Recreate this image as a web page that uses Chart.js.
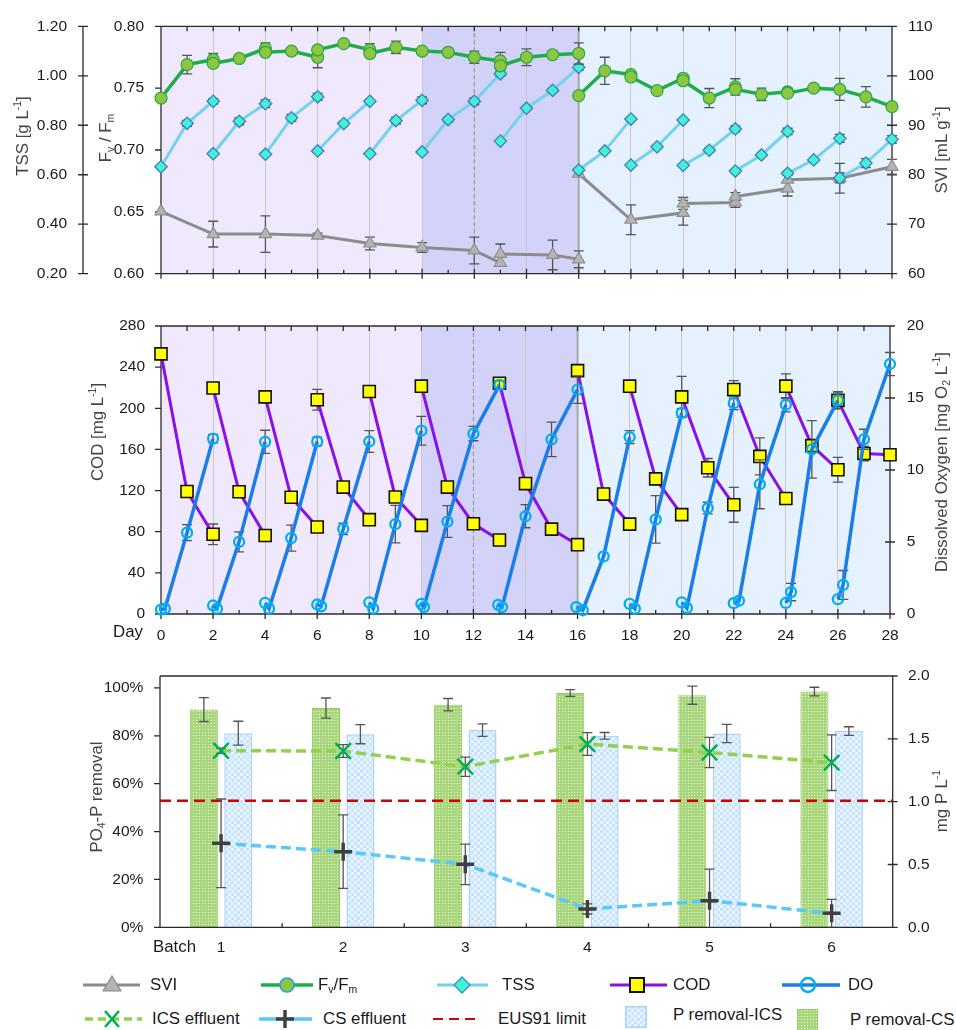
<!DOCTYPE html>
<html>
<head>
<meta charset="utf-8">
<script src="https://cdn.jsdelivr.net/npm/chart.js@4.4.1/dist/chart.umd.min.js"></script>
<style>
  html, body { margin: 0; padding: 0; background: #fff; }
  #wrap { position: relative; width: 956px; height: 1030px; overflow: hidden; color: #1a1a1a; --k: 1; }
  canvas { position: absolute; left: 0; }
  .yt { position: absolute; transform: translate(-50%, -50%) rotate(-90deg); white-space: nowrap;
        font-size: calc(var(--k) * 19px); color: #454545; line-height: 1; }
  .lbl { position: absolute; transform: translateY(-50%); font-size: calc(var(--k) * 19px); white-space: nowrap; line-height: 1; }
  .lg { position: absolute; transform: translateY(-50%); font-size: calc(var(--k) * 19px); white-space: nowrap; line-height: 1; }
  sup { font-size: 0.62em; vertical-align: 0.6em; line-height: 0; }
  sub { font-size: 0.62em; vertical-align: -0.35em; line-height: 0; }
  .ic { position: absolute; overflow: visible; }
</style>
</head>
<body>
<div id="wrap">
  <canvas id="c1" width="956" height="300" style="top:0;width:956px;height:300px"></canvas>
  <canvas id="c2" width="956" height="350" style="top:300px;width:956px;height:350px"></canvas>
  <canvas id="c3" width="956" height="320" style="top:650px;width:956px;height:320px"></canvas>
  <canvas id="c4" width="956" height="320" style="top:650px;width:956px;height:320px"></canvas>

  <!-- axis titles -->
  <div class="yt" style="left:23px;top:136px">TSS [g L<sup>-1</sup>]</div>
  <div class="yt" style="left:106px;top:138px">F<sub>v</sub> / F<sub>m</sub></div>
  <div class="yt" style="left:942px;top:150px">SVI [mL g<sup>-1</sup>]</div>
  <div class="yt" style="left:98px;top:432px">COD [mg L<sup>-1</sup>]</div>
  <div class="yt" style="left:942px;top:462px">Dissolved Oxygen [mg O<sub>2</sub> L<sup>-1</sup>]</div>
  <div class="yt" style="left:97px;top:797px">PO<sub>4</sub>-P removal</div>
  <div class="yt" style="left:942px;top:801px">mg P L<sup>-1</sup></div>
  <div class="lbl" style="left:113px;top:632px">Day</div>
  <div class="lbl" style="left:153px;top:947px">Batch</div>

  <!-- legend -->
  <svg class="ic" style="left:80px;top:973px" width="64" height="24">
    <line x1="3" y1="12" x2="60" y2="12" stroke="#8c8c8c" stroke-width="3"/>
    <polygon points="32,3 41,18 23,18" fill="#b4b4b4" stroke="#8c8c8c" stroke-width="1.2"/>
  </svg>
  <div class="lg" style="left:150px;top:985px">SVI</div>
  <svg class="ic" style="left:258px;top:973px" width="60" height="24">
    <line x1="3" y1="12" x2="55" y2="12" stroke="#1fad4b" stroke-width="3.5"/>
    <circle cx="29" cy="12" r="7" fill="#8dc63f" stroke="#1ca3e3" stroke-width="1.6"/>
  </svg>
  <div class="lg" style="left:318px;top:985px">F<sub>v</sub>/F<sub>m</sub></div>
  <svg class="ic" style="left:434px;top:973px" width="60" height="24">
    <line x1="3" y1="12" x2="54" y2="12" stroke="#73d2ec" stroke-width="3"/>
    <polygon points="28,4 36,12 28,20 20,12" fill="#3ef5cf" stroke="#3f88e0" stroke-width="1.3"/>
  </svg>
  <div class="lg" style="left:502px;top:985px">TSS</div>
  <svg class="ic" style="left:607px;top:973px" width="64" height="24">
    <line x1="3" y1="12" x2="60" y2="12" stroke="#8a10ea" stroke-width="3"/>
    <rect x="23" y="5" width="14" height="14" fill="#ffff00" stroke="#111" stroke-width="2"/>
  </svg>
  <div class="lg" style="left:673px;top:985px">COD</div>
  <svg class="ic" style="left:779px;top:973px" width="64" height="24">
    <line x1="3" y1="12" x2="61" y2="12" stroke="#1a7ee6" stroke-width="3.5"/>
    <circle cx="29" cy="12" r="7" fill="none" stroke="#00aef0" stroke-width="2.5"/>
  </svg>
  <div class="lg" style="left:848px;top:985px">DO</div>

  <svg class="ic" style="left:82px;top:1007px" width="64" height="24">
    <line x1="3" y1="12" x2="60" y2="12" stroke="#92d050" stroke-width="3.5" stroke-dasharray="8 5"/>
    <line x1="23" y1="4" x2="37" y2="20" stroke="#00b050" stroke-width="2.5"/>
    <line x1="37" y1="4" x2="23" y2="20" stroke="#00b050" stroke-width="2.5"/>
  </svg>
  <div class="lg" style="left:152px;top:1019px">ICS effluent</div>
  <svg class="ic" style="left:256px;top:1007px" width="60" height="24">
    <line x1="3" y1="12" x2="56" y2="12" stroke="#5ac8fa" stroke-width="3.5"/>
    <line x1="29" y1="3" x2="29" y2="21" stroke="#404040" stroke-width="3.5"/>
    <line x1="20" y1="12" x2="38" y2="12" stroke="#404040" stroke-width="3.5"/>
  </svg>
  <div class="lg" style="left:323px;top:1019px">CS effluent</div>
  <svg class="ic" style="left:430px;top:1007px" width="52" height="24">
    <line x1="3" y1="12" x2="48" y2="12" stroke="#d40000" stroke-width="2" stroke-dasharray="10 6"/>
  </svg>
  <div class="lg" style="left:498px;top:1019px">EUS91 limit</div>
  <svg class="ic" style="left:625px;top:1006px" width="22" height="22">
    <defs>
      <pattern id="chk" width="6" height="6" patternUnits="userSpaceOnUse">
        <rect width="6" height="6" fill="#e8f4ff"/>
        <rect width="3" height="3" fill="#c8e3fd"/>
        <rect x="3" y="3" width="3" height="3" fill="#c8e3fd"/>
      </pattern>
    </defs>
    <rect x="0.75" y="0.75" width="20.5" height="20.5" fill="url(#chk)" stroke="#a9d3fb" stroke-width="1.5"/>
  </svg>
  <div class="lg" style="left:673px;top:1015px">P removal-ICS</div>
  <svg class="ic" style="left:797px;top:1009px" width="21" height="22">
    <defs>
      <pattern id="dots" width="3" height="3" patternUnits="userSpaceOnUse">
        <rect width="3" height="3" fill="#a8d67a"/>
        <rect x="1" y="1" width="1" height="1" fill="#f0f8e8"/>
      </pattern>
    </defs>
    <rect x="0.5" y="0.5" width="20" height="21" fill="url(#dots)" stroke="#93cc62" stroke-width="1"/>
  </svg>
  <div class="lg" style="left:850px;top:1020px">P removal-CS</div>
</div>

<script>
// ---------- Reactor monitoring: physiology and settling ----------
const fvDay   = [0,1,2,2,3,4,4,5,6,6,7,8,8,9,10,11,12,13,13,14,15,16, 16,17,18,18,19,20,20,21,22,22,23,24,24,25,26,27,28];
const fvValue = [0.742,0.769,0.773,0.770,0.774,0.782,0.779,0.780,0.775,0.781,0.786,0.781,0.778,0.783,0.780,0.779,0.775,0.772,0.768,0.775,0.777,0.778,
                 0.744,0.764,0.761,0.759,0.748,0.758,0.756,0.742,0.751,0.749,0.745,0.747,0.746,0.750,0.749,0.743,0.735];
const fvErr   = [0,0.0075,0.005,0,0,0.0045,0,0,0.0085,0,0,0.005,0,0.005,0,0,0.005,0.007,0,0.0068,0,0.0086,
                 0,0.011,0.002,0,0,0.003,0,0.0077,0.0066,0,0.005,0.003,0,0,0.0089,0.0083,0];
const fvCycle = [0,0,0,0,0,0,0,0,0,0,0,0,0,0,0,0,0,0,0,0,0,0, 1,1,1,1,1,1,1,1,1,1,1,1,1,1,1,1,1];

const tssDay   = [0,1,2, 2,3,4, 4,5,6, 6,7,8, 8,9,10, 10,11,12,13, 13,14,15,16, 16,17,18, 18,19,20, 20,21,22, 22,23,24, 24,25,26, 26,27,28];
const tssValue = [0.632,0.808,0.897, 0.685,0.816,0.887, 0.683,0.830,0.915, 0.696,0.807,0.897, 0.685,0.819,0.901,
                  0.692,0.823,0.897,1.008, 0.736,0.869,0.941,1.034, 0.619,0.696,0.825, 0.639,0.713,0.821,
                  0.638,0.699,0.785, 0.615,0.680,0.775, 0.606,0.660,0.747, 0.587,0.647,0.743];
const tssErr   = [0,0.012,0.011, 0,0.014,0.016, 0,0.014,0.014, 0,0,0, 0,0.014,0.014,
                  0,0.01,0.014,0.01, 0,0,0.008,0.012, 0,0,0, 0,0,0,
                  0,0.008,0.012, 0,0,0.013, 0.008,0,0.016, 0.02,0.018,0.015];
const tssCycle = [0,0,0, 1,1,1, 2,2,2, 3,3,3, 4,4,4, 5,5,5,5, 6,6,6,6, 7,7,7, 8,8,8, 9,9,9, 10,10,10, 11,11,11, 12,12,12];

const sviDay   = [0,2,4,6,8,10,12,13,13,15,16, 16,18,20,20,22,22,24,24,26,28];
const sviValue = [72.6,68.0,68.0,67.7,66.1,65.3,64.7,62.2,64.0,63.8,62.9, 80.2,70.9,72.3,74.2,74.4,75.6,77.2,79.0,79.3,81.6];
const sviErr   = [0,2.6,3.7,0.5,1.3,1.0,2.7,0,2.0,3.0,1.7, 0,3.0,2.5,1.2,1.0,0.8,1.5,0,3.0,1.5];
const sviCycle = [0,0,0,0,0,0,0,0,0,0,0, 1,1,1,1,1,1,1,1,1,1];

// ---------- Feeding cycles: COD and dissolved oxygen ----------
const codDay   = tssDay;
const codValue = [252.9,119.1,77.5, 219.7,118.8,76.3, 211.1,113.5,84.6, 208.3,123.4,91.7, 216.3,113.8,86.2,
                  221.5,123.4,87.7,72.0, 224.3,126.8,82.5,67.4, 236.6,116.6,87.4, 221.5,131.4,96.6,
                  211.1,142.2,106.2, 218.2,153.2,112.3, 221.5,163.7,140.3, 207.7,156.0,154.8];
const codErr   = [0,0,10, 0,0,0, 0,0,0, 10,0,5, 0,0,4,
                  0,0,5,3, 0,5,5,0, 0,0,0, 0,0,4,
                  20,9,17, 8.6,18,3, 12,0,12, 8,7,0];
const codCycle = tssCycle;

const doDay   = [0,0.15,1,2, 2,2.15,3,4, 4,4.15,5,6, 6,6.15,7,8, 8,8.15,9,10, 10,10.1,11,12,13,
                 12.95,13.1,14,15,16, 15.95,16.2,17,18, 18,18.2,19,20, 20,20.2,21,22, 22,22.2,23,24,
                 24,24.2,25,26, 26,26.2,27,28];
const doValue = [0.31,0.37,5.65,12.18, 0.59,0.37,5.01,11.96, 0.77,0.37,5.27,11.98, 0.66,0.53,5.91,11.98,
                 0.81,0.37,6.24,12.73, 0.70,0.48,6.42,12.53,15.91, 0.64,0.48,6.79,12.13,15.58,
                 0.48,0.26,4.0,12.29, 0.70,0.37,6.57,13.96, 0.81,0.42,7.36,14.64, 0.75,0.92,9.01,14.53,
                 0.77,1.52,11.43,14.84, 1.03,2.02,12.13,17.36];
const doErr   = [0,0,0.55,0.3, 0,0,0.7,0.8, 0,0,0.9,0.3, 0,0,0.4,0.75, 0,0,1.3,1.0, 0,0,1.1,0.5,0.3,
                 0,0,0.8,1.2,0.95, 0,0,0,0.45, 0,0,1.65,0.3, 0,0,0.4,0.45, 0,0,1.7,0.5,
                 0,0.6,2.0,0.6, 0,1.0,0.7,0.8];
const doCycle = [0,0,0,0, 1,1,1,1, 2,2,2,2, 3,3,3,3, 4,4,4,4, 5,5,5,5,5, 6,6,6,6,6, 7,7,7,7, 8,8,8,8,
                 9,9,9,9, 10,10,10,10, 11,11,11,11, 12,12,12,12];

// ---------- Batch phosphorus removal ----------
const batches          = ['1','2','3','4','5','6'];
const csRemoval        = [91.0, 91.6, 93.0, 97.9, 97.0, 98.5];   // %
const csRemovalErr     = [5.0, 4.2, 2.6, 1.4, 3.8, 1.8];
const icsRemoval       = [81.1, 80.7, 82.4, 80.0, 81.0, 82.0];   // %
const icsRemovalErr    = [5.0, 4.0, 2.6, 1.4, 3.8, 1.8];
const icsEffluent      = [1.394, 1.392, 1.268, 1.447, 1.380, 1.300]; // mg P/L
const icsEffluentErr   = [0.02, 0.05, 0.076, 0.09, 0.12, 0.22];
const csEffluent       = [0.663, 0.597, 0.497, 0.145, 0.210, 0.110];
const csEffluentErr    = [0.35, 0.29, 0.16, 0.04, 0.25, 0.11];
const eusLimit         = 1.0;

// Operating phases along the day axis
const phaseBounds = [0, 10, 16, 28];
const phaseColors = ['#f0e9fd', '#d3d3fa', '#e5f1fe'];
const dashedDay = 12;
const switchDay = 16;

const tssTicks = { min: 0.2, max: 1.2, step: 0.2 };
const fvTicks  = { min: 0.6, max: 0.8, step: 0.05 };
const sviTicks = { min: 60, max: 110, step: 10 };
const codTicks = { min: 0, max: 280, step: 40 };
const doTicks  = { min: 0, max: 20, step: 5 };
const removalTicks = { min: 0, max: 105, step: 20 };
const effluentTicks = { min: 0, max: 2, step: 0.5 };

// ---------- fonts ----------
function hasFont(name) {
  const g = document.createElement('canvas').getContext('2d');
  const s = 'abcdefghijklmnop0123456789';
  g.font = '40px monospace'; const w0 = g.measureText(s).width;
  g.font = '40px "' + name + '", monospace'; return g.measureText(s).width !== w0;
}
const NARROW = hasFont('Liberation Sans Narrow');
const FAMILY = NARROW ? '"Liberation Sans Narrow", "Liberation Sans", Arial, sans-serif' : '"Liberation Sans", Arial, sans-serif';
const K = NARROW ? 1 : 0.886;
const wrap = document.getElementById('wrap');
wrap.style.fontFamily = FAMILY;
wrap.style.setProperty('--k', K);
Chart.defaults.font.family = FAMILY;
Chart.defaults.font.size = 17.5 * K;
Chart.defaults.color = '#1a1a1a';

// ---------- helpers ----------
function series(days, values, cycles, errs) {
  const pts = [], err = [];
  days.forEach((d, i) => {
    if (i > 0 && cycles[i] !== cycles[i - 1]) { pts.push({ x: d, y: null }); err.push(0); }
    pts.push({ x: d, y: values[i] });
    err.push(errs[i] || 0);
  });
  return { pts, err };
}

// error bars drawn through each dataset's own y scale
function drawErrors(chart, meta, ds) {
  const ctx = chart.ctx, ys = meta.yScale, a = chart.chartArea;
  ctx.save();
  ctx.beginPath(); ctx.rect(a.left - 10, a.top - 2, a.right - a.left + 20, a.bottom - a.top + 2); ctx.clip();
  ctx.strokeStyle = '#555'; ctx.lineWidth = 1.3;
  ctx.beginPath();
  meta.data.forEach((el, i) => {
    const e = ds.errorBars[i];
    const raw = ds.data[i];
    const v = (raw !== null && typeof raw === 'object') ? raw.y : raw;
    if (!e || v === null || v === undefined) return;
    const x = el.x, y1 = ys.getPixelForValue(v + e), y2 = ys.getPixelForValue(v - e);
    ctx.moveTo(x, y1); ctx.lineTo(x, y2);
    ctx.moveTo(x - 5, y1); ctx.lineTo(x + 5, y1);
    ctx.moveTo(x - 5, y2); ctx.lineTo(x + 5, y2);
  });
  ctx.stroke();
  ctx.restore();
}
const errorBars = {
  id: 'errorBars',
  beforeDatasetDraw(chart, args) {
    const ds = chart.data.datasets[args.index];
    if (ds.errorBars && !ds.errorOnTop) drawErrors(chart, args.meta, ds);
  },
  afterDatasetDraw(chart, args) {
    const ds = chart.data.datasets[args.index];
    if (ds.errorBars && ds.errorOnTop) drawErrors(chart, args.meta, ds);
  }
};

// coloured phase bands and phase divider lines
const phaseBands = {
  id: 'phaseBands',
  beforeDraw(chart, args, o) {
    if (!o.bounds) return;
    const { ctx, chartArea: a } = chart, xs = chart.scales.x;
    ctx.save();
    for (let i = 0; i < o.bounds.length - 1; i++) {
      const x1 = xs.getPixelForValue(o.bounds[i]), x2 = xs.getPixelForValue(o.bounds[i + 1]);
      ctx.fillStyle = o.colors[i];
      ctx.fillRect(x1, a.top, x2 - x1, a.bottom - a.top);
    }
    ctx.restore();
  },
  beforeDatasetsDraw(chart, args, o) {
    if (!o.bounds) return;
    const { ctx, chartArea: a } = chart, xs = chart.scales.x;
    ctx.save();
    let x = xs.getPixelForValue(o.dashed);
    ctx.strokeStyle = '#9a9a9a'; ctx.lineWidth = 1.2; ctx.setLineDash([4, 3]);
    ctx.beginPath(); ctx.moveTo(x, a.top); ctx.lineTo(x, a.bottom); ctx.stroke();
    x = xs.getPixelForValue(o.solid);
    ctx.setLineDash([]); ctx.strokeStyle = '#a8a8a8'; ctx.lineWidth = 2;
    ctx.beginPath(); ctx.moveTo(x, a.top); ctx.lineTo(x, a.bottom); ctx.stroke();
    ctx.restore();
  }
};

// axis lines with inner / outer tick marks
function drawFrame(chart, o) {
  const { ctx, chartArea: a } = chart;
  ctx.save();
  ctx.strokeStyle = '#2b2b2b'; ctx.lineWidth = 1.3;
  ctx.beginPath();
  for (const ax of o.axes) {
    const s = chart.scales[ax.id];
    const marks = ax.marks || (() => [0, 0]);
    if (ax.edge === 'top' || ax.edge === 'bottom') {
      const y = ax.edge === 'top' ? a.top : a.bottom;
      const dir = ax.edge === 'top' ? 1 : -1;
      ctx.moveTo(a.left, y); ctx.lineTo(a.right, y);
      const list = ax.px ? ax.px(s) : s.ticks.map(t => ({ v: t.value, p: s.getPixelForValue(t.value) }));
      for (const t of list) {
        const [inn, out] = marks(t.v);
        if (!inn && !out) continue;
        ctx.moveTo(t.p, y + dir * inn); ctx.lineTo(t.p, y - dir * out);
      }
    } else {
      let x, dir;
      if (ax.edge === 'left') { x = a.left; dir = 1; }
      else if (ax.edge === 'right') { x = a.right; dir = -1; }
      else { x = s.right; dir = 1; }
      ctx.moveTo(x, a.top); ctx.lineTo(x, a.bottom);
      for (const t of s.ticks) {
        const [inn, out] = marks(t.value);
        const y = s.getPixelForValue(t.value);
        ctx.moveTo(x + dir * inn, y); ctx.lineTo(x - dir * out, y);
      }
    }
  }
  ctx.stroke();
  ctx.restore();
}
const frame = {
  id: 'frame',
  beforeDatasetsDraw(chart, args, o) { if (o.axes && !o.onTop) drawFrame(chart, o); },
  afterDatasetsDraw(chart, args, o) { if (o.axes && o.onTop) drawFrame(chart, o); }
};

const evenGrid = c => {
  const v = c.tick ? c.tick.value : -1;
  return (v > 0 && v < 28 && v % 2 === 0) ? '#c8c8c8' : 'rgba(0,0,0,0)';
};
const dayMarksBottom = v => (v % 2 === 0 ? [5, 5] : [4, 0]);
const dayMarksTop = v => [5, 0];
const cross = () => [5, 5];
const outer = () => [0, 6];

function yAxis(t, pos, width, pad, fmt, weight, hidden) {
  return {
    type: 'linear', position: pos, weight: weight || 0,
    min: t.min, max: t.max,
    ticks: { stepSize: t.step, padding: pad, callback: fmt, includeBounds: false, display: !hidden },
    grid: { display: false, drawTicks: false },
    border: { display: false },
    afterFit: s => { s.width = width; }
  };
}
function dayAxis(height, showLabels, pad) {
  return {
    type: 'linear', min: 0, max: 28,
    ticks: { stepSize: 1, display: showLabels, padding: pad, autoSkip: false, maxRotation: 0,
             callback: v => (v % 2 === 0 ? String(v) : '') },
    grid: { color: evenGrid, lineWidth: 1, drawTicks: false },
    border: { display: false },
    afterFit: s => { s.height = height; }
  };
}
function batchAxis(showLabels) {
  return {
    type: 'category', offset: true,
    ticks: { padding: 11.5, autoSkip: false, maxRotation: 0, display: showLabels },
    grid: { display: false, drawTicks: false }, border: { display: false },
    afterFit: s => { s.height = 42.7; }
  };
}
const common = { responsive: false, animation: false, events: [] };
const quiet = { legend: { display: false }, tooltip: { enabled: false } };

// ---------- top panel ----------
const fv = series(fvDay, fvValue, fvCycle, fvErr);
const tss = series(tssDay, tssValue, tssCycle, tssErr);
const svi = series(sviDay, sviValue, sviCycle, sviErr);

new Chart(document.getElementById('c1'), {
  type: 'line',
  data: {
    datasets: [
      { label: 'Fv/Fm', data: fv.pts, errorBars: fv.err, yAxisID: 'yFv', clip: false,
        borderColor: '#1fad4b', borderWidth: 3.5, tension: 0, spanGaps: false,
        pointStyle: 'circle', pointRadius: 6, pointBackgroundColor: '#8dc63f',
        pointBorderColor: '#2aa64a', pointBorderWidth: 1.2 },
      { label: 'TSS', data: tss.pts, errorBars: tss.err, yAxisID: 'yTss', clip: false,
        borderColor: '#73d2ec', borderWidth: 3, tension: 0, spanGaps: false,
        pointStyle: 'rectRot', pointRadius: 6.2, pointBackgroundColor: '#3ef5cf',
        pointBorderColor: '#4577c8', pointBorderWidth: 1.3 },
      { label: 'SVI', data: svi.pts, errorBars: svi.err, yAxisID: 'ySvi', clip: false,
        borderColor: '#8c8c8c', borderWidth: 3, tension: 0, spanGaps: false,
        pointStyle: 'triangle', pointRadius: 7, pointBackgroundColor: '#b4b4b4',
        pointBorderColor: '#8e8e8e', pointBorderWidth: 1.2 }
    ]
  },
  options: Object.assign({}, common, {
    layout: { padding: { top: 18, left: 0, right: 0, bottom: 0 } },
    plugins: Object.assign({}, quiet, {
      phaseBands: { bounds: phaseBounds, colors: phaseColors, dashed: dashedDay, solid: switchDay },
      frame: { axes: [
        { id: 'x', edge: 'bottom', marks: dayMarksBottom },
        { id: 'x', edge: 'top', marks: dayMarksTop },
        { id: 'yTss', edge: 'outer', marks: cross },
        { id: 'yFv', edge: 'left', marks: outer },
        { id: 'ySvi', edge: 'right', marks: cross }
      ] }
    }),
    scales: {
      x: dayAxis(20.5, false, 0),
      yTss: yAxis(tssTicks, 'left', 83, 16, v => v.toFixed(2), 2),
      yFv: yAxis(fvTicks, 'left', 78, 17, v => v.toFixed(2), 1),
      ySvi: yAxis(sviTicks, 'right', 64, 16, v => String(Math.round(v)))
    }
  }),
  plugins: [phaseBands, frame, errorBars]
});

// ---------- middle panel ----------
const dox = series(doDay, doValue, doCycle, doErr);
const cod = series(codDay, codValue, codCycle, codErr);

new Chart(document.getElementById('c2'), {
  type: 'line',
  data: {
    datasets: [
      { label: 'DO', data: dox.pts, errorBars: dox.err, yAxisID: 'yDo', clip: false,
        borderColor: '#1a7ee6', borderWidth: 3.5, tension: 0, spanGaps: false,
        pointStyle: 'circle', pointRadius: 5, pointBackgroundColor: 'rgba(0,0,0,0)',
        pointBorderColor: '#00aef0', pointBorderWidth: 2.3 },
      { label: 'COD', data: cod.pts, errorBars: cod.err, yAxisID: 'yCod', clip: false,
        borderColor: '#8a10ea', borderWidth: 3, tension: 0, spanGaps: false,
        pointStyle: 'rect', pointRadius: 8.5, pointBackgroundColor: '#ffff00',
        pointBorderColor: '#111', pointBorderWidth: 1.6 }
    ]
  },
  options: Object.assign({}, common, {
    layout: { padding: { top: 10.7, left: 0, right: 0, bottom: 0 } },
    plugins: Object.assign({}, quiet, {
      phaseBands: { bounds: phaseBounds, colors: phaseColors, dashed: dashedDay, solid: switchDay },
      frame: { axes: [
        { id: 'x', edge: 'bottom', marks: dayMarksBottom },
        { id: 'x', edge: 'top', marks: dayMarksTop },
        { id: 'yCod', edge: 'left', marks: outer },
        { id: 'yDo', edge: 'right', marks: cross }
      ] }
    }),
    scales: {
      x: dayAxis(36, true, 12.5),
      yCod: yAxis(codTicks, 'left', 161, 16, v => String(v)),
      yDo: yAxis(doTicks, 'right', 66, 16.7, v => String(v))
    }
  }),
  plugins: [phaseBands, frame, errorBars]
});

// ---------- bottom panel: removal bars ----------
function makePattern(w, h, paint) {
  const c = document.createElement('canvas'); c.width = w; c.height = h;
  const g = c.getContext('2d'); paint(g);
  return g.createPattern(c, 'repeat');
}
const csFill = makePattern(3, 3, g => {
  g.fillStyle = '#a8d67a'; g.fillRect(0, 0, 3, 3);
  g.fillStyle = '#f0f8e8'; g.fillRect(1, 1, 1, 1);
});
const icsFill = makePattern(6, 6, g => {
  g.fillStyle = '#e8f4ff'; g.fillRect(0, 0, 6, 6);
  g.fillStyle = '#c8e3fd'; g.fillRect(0, 0, 3, 3); g.fillRect(3, 3, 3, 3);
});

new Chart(document.getElementById('c3'), {
  type: 'bar',
  data: {
    labels: batches,
    datasets: [
      { label: 'P removal-CS', data: csRemoval, errorBars: csRemovalErr, errorOnTop: true,
        yAxisID: 'yL', backgroundColor: csFill, borderColor: '#93cc62', borderWidth: 1,
        categoryPercentage: 0.564, barPercentage: 0.814 },
      { label: 'P removal-ICS', data: icsRemoval, errorBars: icsRemovalErr, errorOnTop: true,
        yAxisID: 'yL', backgroundColor: icsFill, borderColor: '#a9d3fb', borderWidth: 1.5,
        categoryPercentage: 0.564, barPercentage: 0.814 }
    ]
  },
  options: Object.assign({}, common, {
    layout: { padding: { top: 24, left: 0, right: 0, bottom: 0 } },
    plugins: Object.assign({}, quiet, {
      frame: { onTop: true, axes: [
        { id: 'x', edge: 'bottom', marks: () => [4, 0],
          px: s => batches.slice(1).map((b, i) => ({ v: i, p: (s.getPixelForValue(i) + s.getPixelForValue(i + 1)) / 2 })) },
        { id: 'x', edge: 'top', marks: () => [0, 0], px: () => [] },
        { id: 'yL', edge: 'left', marks: outer },
        { id: 'yR', edge: 'right', marks: cross }
      ] }
    }),
    scales: {
      x: batchAxis(true),
      yL: yAxis(removalTicks, 'left', 160, 16.7, v => v + '%'),
      yR: yAxis(effluentTicks, 'right', 63.3, 15.3, v => v.toFixed(1))
    }
  }),
  plugins: [frame, errorBars]
});

// ---------- bottom panel: effluent concentrations (same plot area) ----------
new Chart(document.getElementById('c4'), {
  type: 'line',
  data: {
    labels: batches,
    datasets: [
      { label: 'ICS effluent', data: icsEffluent, errorBars: icsEffluentErr,
        xAxisID: 'x', yAxisID: 'yR', clip: false,
        borderColor: '#92d050', borderWidth: 3.5, borderDash: [10, 5], tension: 0,
        pointStyle: 'crossRot', pointRadius: 11, pointBorderColor: '#00b050', pointBorderWidth: 2.5 },
      { label: 'CS effluent', data: csEffluent, errorBars: csEffluentErr,
        xAxisID: 'x', yAxisID: 'yR', clip: false,
        borderColor: '#5ac8fa', borderWidth: 3.5, borderDash: [10, 5], tension: 0,
        pointStyle: 'cross', pointRadius: 9, pointBorderColor: '#404040', pointBorderWidth: 3.5 },
      { label: 'EUS91 limit', data: [{ x: 0, y: eusLimit }, { x: 1, y: eusLimit }],
        xAxisID: 'xl', yAxisID: 'yR',
        borderColor: '#d40000', borderWidth: 2.5, borderDash: [11, 6], pointRadius: 0 }
    ]
  },
  options: Object.assign({}, common, {
    layout: { padding: { top: 24, left: 0, right: 0, bottom: 0 } },
    plugins: quiet,
    scales: {
      x: batchAxis(false),
      xl: { type: 'linear', display: false, min: 0, max: 1, offset: false },
      yL: yAxis(removalTicks, 'left', 160, 16.7, v => '', 0, true),
      yR: yAxis(effluentTicks, 'right', 63.3, 15.3, v => '', 0, true)
    }
  }),
  plugins: [errorBars]
});
</script>
</body>
</html>
